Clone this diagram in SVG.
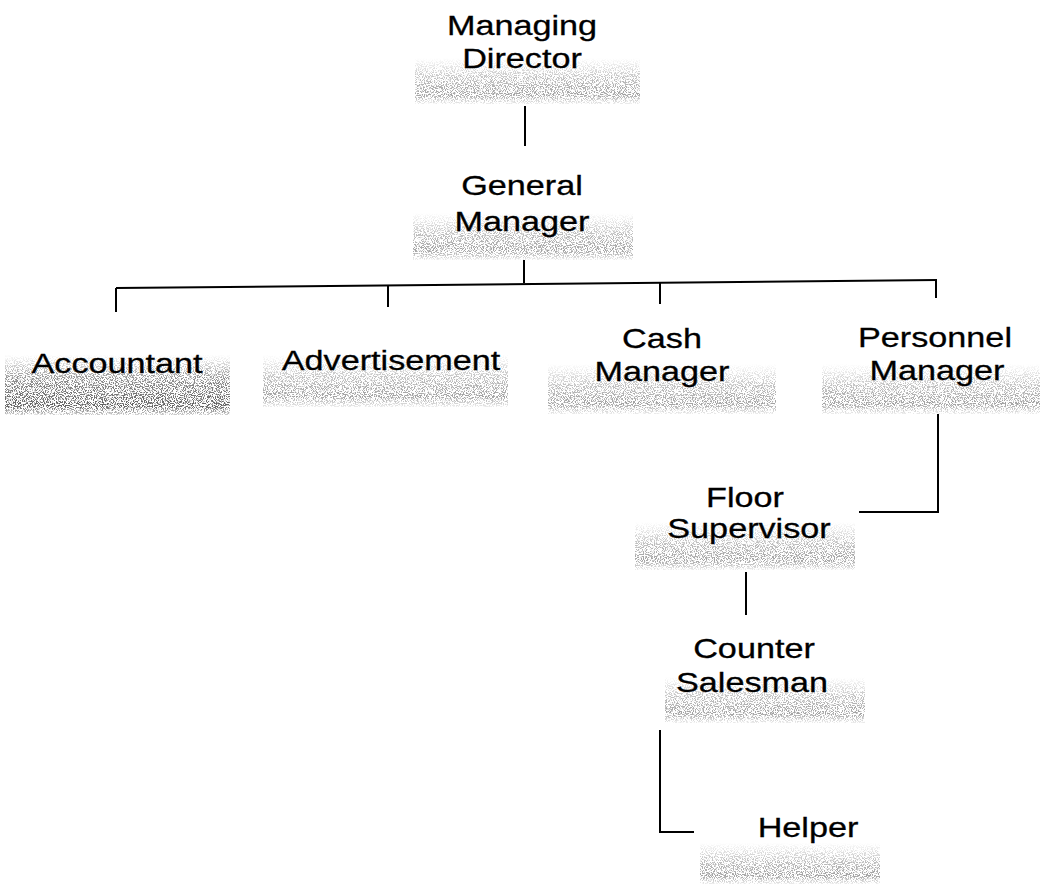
<svg xmlns="http://www.w3.org/2000/svg" width="1043" height="884" viewBox="0 0 1043 884">
<defs>
<filter id="speck" x="0" y="0" width="100%" height="100%">
<feTurbulence type="fractalNoise" baseFrequency="0.9" numOctaves="2" seed="7" result="n"/>
<feColorMatrix in="n" type="matrix" values="0 0 0 0 0  0 0 0 0 0  0 0 0 0 0  9 0 0 0 -4.3" result="m"/>
<feComposite in="SourceGraphic" in2="m" operator="in"/>
</filter>
<linearGradient id="fade" x1="0" y1="0" x2="0" y2="1">
<stop offset="0" stop-color="#8a8a8a" stop-opacity="0"/>
<stop offset="0.45" stop-color="#8a8a8a" stop-opacity="0.55"/>
<stop offset="0.8" stop-color="#8a8a8a" stop-opacity="0.8"/>
<stop offset="1" stop-color="#8a8a8a" stop-opacity="0.15"/>
</linearGradient>
<linearGradient id="fadeDark" x1="0" y1="0" x2="0" y2="1">
<stop offset="0" stop-color="#606060" stop-opacity="0"/>
<stop offset="0.4" stop-color="#606060" stop-opacity="0.7"/>
<stop offset="0.85" stop-color="#606060" stop-opacity="1"/>
<stop offset="1" stop-color="#606060" stop-opacity="0.3"/>
</linearGradient>
</defs>
<style>
text{font-family:"Liberation Sans",Arial,sans-serif;font-size:28.5px;fill:#000;stroke:#000;stroke-width:0.3;text-anchor:middle}
.bar{fill:url(#fade);filter:url(#speck)}
.bar.dark{fill:url(#fadeDark)}
.conn{fill:none;stroke:#000;stroke-width:2}
</style>
<rect width="1043" height="884" fill="#fff"/>
<g id="connectors" class="conn">
<path d="M525,106 V146"/>
<path d="M524,260 V283"/>
<path d="M116,288 L937,280"/>
<path d="M116,288 V312"/>
<path d="M388,285.3 V307"/>
<path d="M660,282.7 V304"/>
<path d="M936,280 V298"/>
<path d="M938,414 V512 H859"/>
<path d="M746,572 V615"/>
<path d="M660,730 V832 H694"/>
</g>
<g id="managing-director">
<rect class="bar" x="415" y="58" width="225" height="46"/>
<text transform="translate(522,35) scale(1.2,1)">Managing</text>
<text transform="translate(522,68) scale(1.2,1)">Director</text>
</g>
<g id="general-manager">
<rect class="bar" x="413" y="213" width="220" height="47"/>
<text transform="translate(522,195) scale(1.2,1)">General</text>
<text transform="translate(522,231) scale(1.2,1)">Manager</text>
</g>
<g id="accountant">
<rect class="bar dark" x="5" y="355" width="225" height="60"/>
<text transform="translate(117,373) scale(1.2,1)">Accountant</text>
</g>
<g id="advertisement">
<rect class="bar" x="263" y="355" width="245" height="52"/>
<text transform="translate(391,370) scale(1.2,1)">Advertisement</text>
</g>
<g id="cash-manager">
<rect class="bar" x="548" y="364" width="228" height="50"/>
<text transform="translate(662,348) scale(1.2,1)">Cash</text>
<text transform="translate(662,381) scale(1.2,1)">Manager</text>
</g>
<g id="personnel-manager">
<rect class="bar" x="822" y="364" width="218" height="50"/>
<text transform="translate(935,347) scale(1.2,1)">Personnel</text>
<text transform="translate(937,380) scale(1.2,1)">Manager</text>
</g>
<g id="floor-supervisor">
<rect class="bar" x="635" y="522" width="220" height="48"/>
<text transform="translate(745,507) scale(1.2,1)">Floor</text>
<text transform="translate(749,538) scale(1.2,1)">Supervisor</text>
</g>
<g id="counter-salesman">
<rect class="bar" x="665" y="677" width="200" height="46"/>
<text transform="translate(754,658) scale(1.2,1)">Counter</text>
<text transform="translate(752,692) scale(1.2,1)">Salesman</text>
</g>
<g id="helper">
<rect class="bar" x="700" y="843" width="180" height="41"/>
<text transform="translate(808,837) scale(1.2,1)">Helper</text>
</g>
</svg>
